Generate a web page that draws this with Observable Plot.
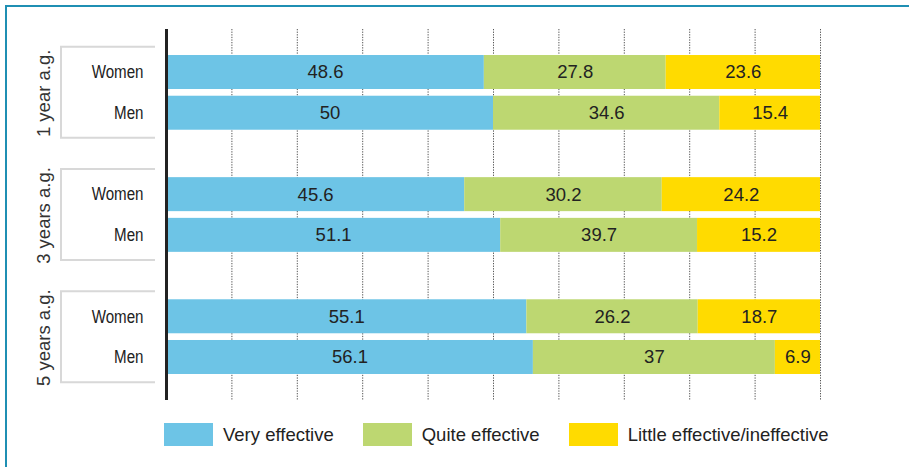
<!DOCTYPE html>
<html>
<head>
<meta charset="utf-8">
<script src="https://cdn.jsdelivr.net/npm/d3@7"></script>
<script src="https://cdn.jsdelivr.net/npm/@observablehq/plot@0.6"></script>
<style>
  body { margin: 0; background: #fff; }
  #wrap { position: relative; width: 909px; height: 467px; overflow: hidden; font-family: "Liberation Sans", Arial, sans-serif; background: #fff; }
  #border { position: absolute; left: 5px; top: 5px; width: 960px; height: 520px; border-top: 2px solid #1f8fb3; border-left: 2px solid #1f8fb3; }
  #chart { position: absolute; left: 0; top: 0; }
  #legend { position: absolute; left: 164px; top: 423px; display: flex; align-items: center; font-size: 18.5px; color: #222; white-space: nowrap; }
  .item { display: flex; align-items: center; margin-right: 29px; }
  .sw { width: 49px; height: 23px; margin-right: 10px; }
</style>
</head>
<body>
<div id="wrap">
  <div id="border"></div>
  <div id="chart"></div>
  <div id="legend"></div>
</div>
<script>
// ---- data ----
const groups = ["1 year a.g.", "3 years a.g.", "5 years a.g."];
const sexes = ["Women", "Men"];
const categories = ["Very effective", "Quite effective", "Little effective/ineffective"];
const colors = ["#6dc4e6", "#bdd771", "#ffdb00"];

// bar lengths as drawn (percent), rows: 1y W, 1y M, 3y W, 3y M, 5y W, 5y M
const veryEffective   = [48.6, 50.0, 45.6, 51.1, 55.1, 56.1];
const quiteEffective  = [27.8, 34.6, 30.2, 30.1, 26.2, 37.0];
const littleEffective = [23.6, 15.4, 24.2, 18.8, 18.7, 6.9];

// labels as printed on the bars
const veryLabels   = ["48.6", "50", "45.6", "51.1", "55.1", "56.1"];
const quiteLabels  = ["27.8", "34.6", "30.2", "39.7", "26.2", "37"];
const littleLabels = ["23.6", "15.4", "24.2", "15.2", "18.7", "6.9"];

const gridTicks = [10, 20, 30, 40, 50, 60, 70, 80, 90, 100];

// ---- build table ----
const rows = [];
groups.forEach(g => sexes.forEach(s => rows.push({group: g, sex: s, key: g + "|" + s})));
const series = [veryEffective, quiteEffective, littleEffective];
const seriesLabels = [veryLabels, quiteLabels, littleLabels];
const segments = [];
rows.forEach((r, i) => {
  categories.forEach((c, j) => {
    segments.push({key: r.key, cat: c, value: series[j][i], label: seriesLabels[j][i]});
  });
});
const yDomain = [];
groups.forEach((g, gi) => {
  sexes.forEach(s => yDomain.push(g + "|" + s));
  if (gi < groups.length - 1) yDomain.push("gap" + gi);
});

const font = "'Liberation Sans', Arial, sans-serif";

const chart = Plot.plot({
  width: 909,
  height: 410,
  marginLeft: 166,
  marginRight: 89,
  marginTop: 29,
  marginBottom: 10,
  x: {domain: [0, 100], axis: null},
  y: {domain: yDomain, axis: null, padding: 0.165, round: false, insetTop: 19.3, insetBottom: 19.3},
  color: {domain: categories, range: colors},
  style: {fontFamily: font, background: "transparent", overflow: "visible"},
  marks: [
    Plot.ruleX(gridTicks, {stroke: "#555", strokeWidth: 1, strokeDasharray: "1.3,1.3"}),
    Plot.barX(segments, Plot.stackX({y: "key", x: "value", fill: "cat"})),
    Plot.text(segments, Plot.stackX({y: "key", x: "value", z: "cat", text: "label", fill: "#222", fontSize: 18.5, fontFamily: font})),
    Plot.ruleX([0], {stroke: "#222", strokeWidth: 3}),
    Plot.text(rows, {y: "key", text: "sex", frameAnchor: "left", dx: -23, textAnchor: "end", fill: "#222", fontSize: 18, fontFamily: font})
  ]
});
document.getElementById("chart").appendChild(chart);

// condense the row labels (the original uses a condensed face)
d3.select(chart).selectAll("text").each(function() {
  const s = (this.textContent || "").trim();
  if (!sexes.includes(s)) return;
  const w = this.getComputedTextLength();
  if (w > 0) {
    this.setAttribute("textLength", (w * 0.84).toFixed(1));
    this.setAttribute("lengthAdjust", "spacingAndGlyphs");
  }
});

// ---- group brackets and rotated labels (decoration using the y scale) ----
const ys = chart.scale("y");
let yPos;
if (ys && typeof ys.apply === "function") {
  yPos = k => ys.apply(k);
} else {
  const b = d3.scaleBand(ys.domain, ys.range).paddingInner(ys.paddingInner ?? 0.165).paddingOuter(ys.paddingOuter ?? 0.165).align(ys.align ?? 0.5);
  yPos = k => b(k);
}
const bw = ys.bandwidth;
const deco = d3.select(chart).append("g").attr("aria-label", "group brackets");
groups.forEach(g => {
  const top = yPos(g + "|Women");
  const bottom = yPos(g + "|Men") + bw;
  const c = (top + bottom) / 2;
  const t = c - 45.5, b = c + 45.5;
  deco.append("path")
    .attr("d", `M155,${t}H61V${b}H155`)
    .attr("fill", "none")
    .attr("stroke", "#d8d8d8")
    .attr("stroke-width", 2);
  deco.append("text")
    .attr("transform", `translate(50,${c + 1}) rotate(-90)`)
    .attr("text-anchor", "middle")
    .attr("font-size", 18.5)
    .attr("font-family", font)
    .attr("fill", "#333")
    .text(g);
});

// ---- legend ----
const legend = d3.select("#legend");
categories.forEach((c, i) => {
  const it = legend.append("div").attr("class", "item");
  it.append("div").attr("class", "sw").style("background", colors[i]);
  it.append("span").text(c);
});
</script>
</body>
</html>
